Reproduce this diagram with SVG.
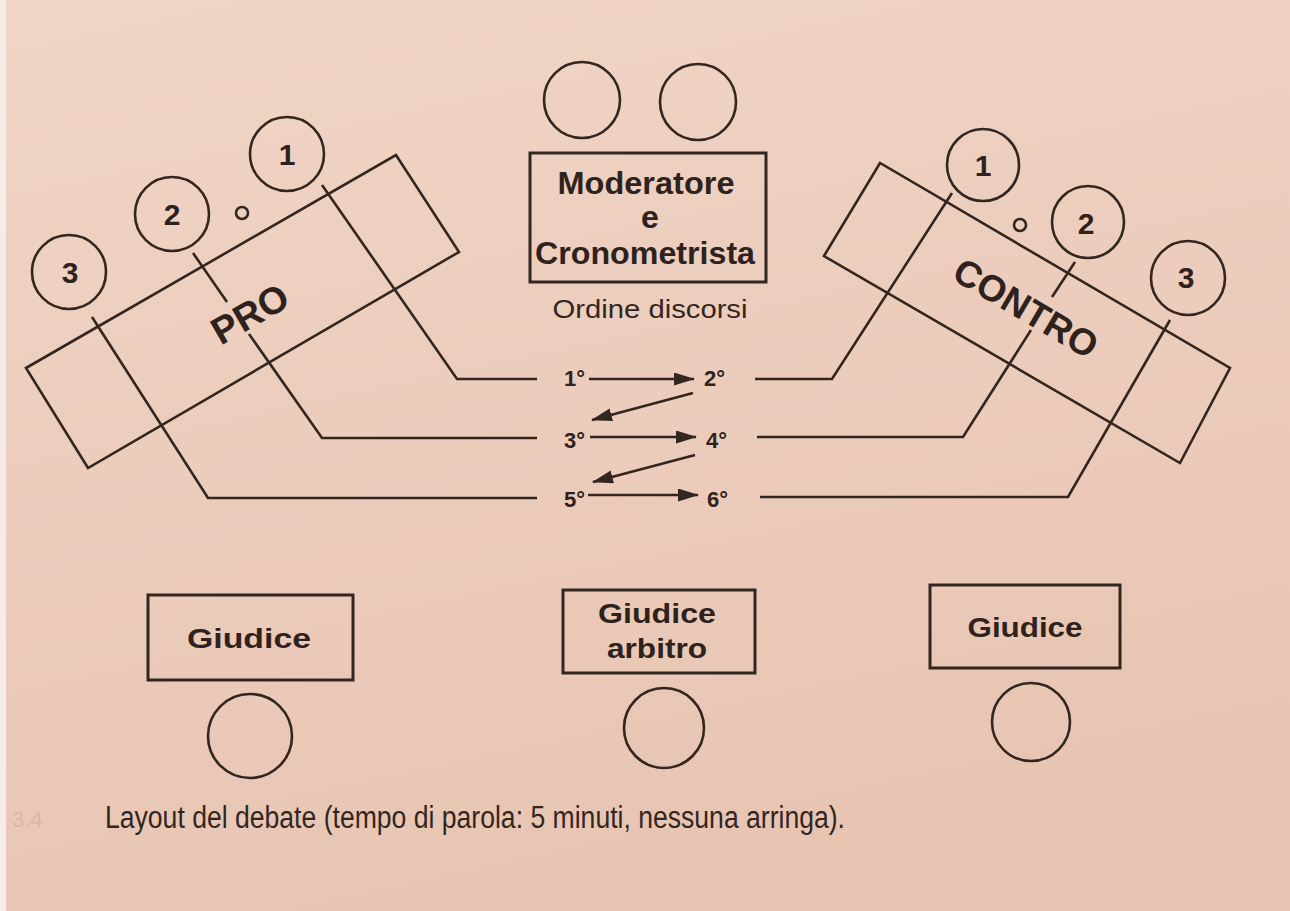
<svg xmlns="http://www.w3.org/2000/svg" width="1290" height="911" viewBox="0 0 1290 911">
<defs>
<linearGradient id="bg" x1="0" y1="0" x2="0.3" y2="1">
<stop offset="0" stop-color="#f0d5c6"/>
<stop offset="1" stop-color="#e8c5b3"/>
</linearGradient>
<marker id="ah" markerUnits="userSpaceOnUse" markerWidth="22" markerHeight="14" refX="20" refY="6.5" orient="auto">
<path d="M0,0 L21,6.5 L0,13 z" fill="#33261f"/>
</marker>
<style>
.ln{fill:none;stroke:#33261f;stroke-width:2.6;stroke-linejoin:miter}
.bx{fill:none;stroke:#33261f;stroke-width:3}
.seat{fill:none;stroke:#33261f;stroke-width:2.6}
.b{font-family:"Liberation Sans",Arial,sans-serif;font-weight:bold;fill:#2f221d}
.r{font-family:"Liberation Sans",Arial,sans-serif;fill:#33261f}
.num{font-size:30px;text-anchor:middle}
.ord{font-size:22px}
.arr{fill:none;stroke:#33261f;stroke-width:2.6;marker-end:url(#ah)}
</style>
</defs>
<rect x="0" y="0" width="1290" height="911" fill="url(#bg)"/>
<rect x="0" y="0" width="6" height="911" fill="#f6ebe6"/>

<g id="pro-table">
<polygon class="ln" points="26,368 396,155 459,252 88,468"/>
<text class="b" font-size="38" text-anchor="middle" transform="translate(250,314) rotate(-30)" x="0" y="13">PRO</text>
</g>
<g id="pro-1"><circle class="seat" cx="287" cy="154" r="37"/><text class="b num" x="287" y="165">1</text></g>
<g id="pro-2"><circle class="seat" cx="172" cy="214" r="37"/><text class="b num" x="172" y="225">2</text></g>
<g id="pro-3"><circle class="seat" cx="69" cy="272" r="37"/><text class="b num" x="70" y="283">3</text></g>
<g id="pro-o"><circle class="seat" cx="242" cy="213" r="6" stroke-width="2.4"/></g>

<g id="contro-table">
<polygon class="ln" points="824,256 880,163 1230,368 1180,463"/>
<text class="b" font-size="37" text-anchor="middle" transform="translate(1026,308) rotate(30.5)" x="0" y="13">CONTRO</text>
</g>
<g id="contro-1"><circle class="seat" cx="983" cy="165" r="36"/><text class="b num" x="983" y="176">1</text></g>
<g id="contro-2"><circle class="seat" cx="1088" cy="222" r="36"/><text class="b num" x="1086" y="234">2</text></g>
<g id="contro-3"><circle class="seat" cx="1188" cy="278" r="37"/><text class="b num" x="1186" y="288">3</text></g>
<g id="contro-o"><circle class="seat" cx="1020" cy="225" r="6" stroke-width="2.4"/></g>

<g id="moderatore">
<circle class="seat" cx="582" cy="100" r="38"/>
<circle class="seat" cx="698" cy="102" r="38"/>
<rect class="bx" x="530" y="153" width="236" height="129"/>
<text class="b" font-size="32" text-anchor="middle" x="646" y="194" textLength="177" lengthAdjust="spacingAndGlyphs">Moderatore</text>
<text class="b" font-size="32" text-anchor="middle" x="650" y="228">e</text>
<text class="b" font-size="32" text-anchor="middle" x="645" y="264" textLength="220" lengthAdjust="spacingAndGlyphs">Cronometrista</text>
</g>
<g id="ordine">
<text class="r" font-size="25" text-anchor="middle" x="650" y="318" textLength="195" lengthAdjust="spacingAndGlyphs">Ordine discorsi</text>
<text class="b ord" x="564" y="386">1°</text>
<text class="b ord" x="704" y="386">2°</text>
<text class="b ord" x="564" y="448">3°</text>
<text class="b ord" x="706" y="448">4°</text>
<text class="b ord" x="564" y="507">5°</text>
<text class="b ord" x="707" y="507">6°</text>
</g>

<g id="connectors">
<polyline class="ln" points="322,185 457,379 537,379"/>
<polyline class="ln" points="193,253 227,302"/>
<polyline class="ln" points="249,334 322,438 537,438"/>
<polyline class="ln" points="92,317 208,498 537,498"/>
<polyline class="ln" points="952,193 832,379 755,379"/>
<polyline class="ln" points="1075,262 1052,297"/>
<polyline class="ln" points="1031,330 963,437 757,437"/>
<polyline class="ln" points="1170,320 1068,497 760,497"/>
<line class="arr" x1="589" y1="379" x2="694" y2="379"/>
<line class="arr" x1="693" y1="393" x2="592" y2="420"/>
<line class="arr" x1="590" y1="437" x2="696" y2="437"/>
<line class="arr" x1="695" y1="455" x2="593" y2="482"/>
<line class="arr" x1="588" y1="495" x2="698" y2="495"/>
</g>

<g id="giudice-pro">
<rect class="bx" x="148" y="595" width="205" height="85"/>
<text class="b" font-size="28" text-anchor="middle" x="249" y="648" textLength="124" lengthAdjust="spacingAndGlyphs">Giudice</text>
<circle class="seat" cx="250" cy="736" r="42"/>
</g>
<g id="giudice-arbitro">
<rect class="bx" x="563" y="590" width="192" height="83"/>
<text class="b" font-size="28" text-anchor="middle" x="657" y="623" textLength="118" lengthAdjust="spacingAndGlyphs">Giudice</text>
<text class="b" font-size="28" text-anchor="middle" x="657" y="658" textLength="100" lengthAdjust="spacingAndGlyphs">arbitro</text>
<circle class="seat" cx="664" cy="728" r="40"/>
</g>
<g id="giudice-contro">
<rect class="bx" x="930" y="585" width="190" height="83"/>
<text class="b" font-size="28" text-anchor="middle" x="1025" y="637" textLength="115" lengthAdjust="spacingAndGlyphs">Giudice</text>
<circle class="seat" cx="1031" cy="722" r="39"/>
</g>

<g id="caption">
<text class="r" font-size="22" x="12" y="827" style="fill:#d8b6a6">3.4</text>
<text class="r" font-size="31" x="105" y="828" textLength="740" lengthAdjust="spacingAndGlyphs">Layout del debate (tempo di parola: 5 minuti, nessuna arringa).</text>
</g>
</svg>
